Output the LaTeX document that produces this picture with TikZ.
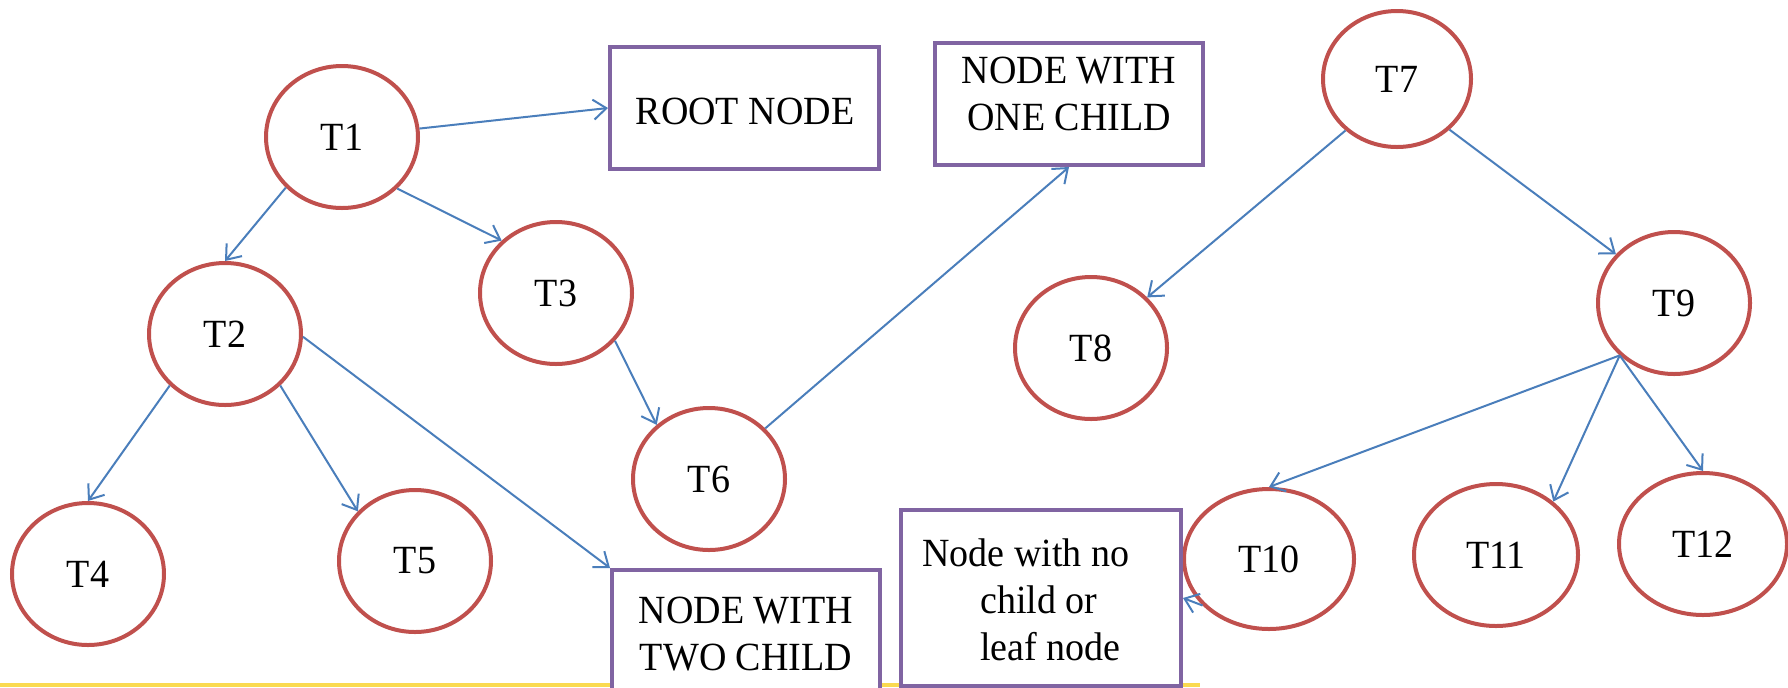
\documentclass[tikz,border=0pt]{standalone}
\usepackage{fontspec}
\setmainfont{Liberation Serif}[FakeStretch=0.95]
\usetikzlibrary{arrows.meta,shapes.geometric}

\definecolor{nodered}{RGB}{192,80,77}
\definecolor{boxpurple}{RGB}{128,100,162}
\definecolor{linkblue}{RGB}{74,126,187}
\definecolor{rulegold}{RGB}{250,218,80}

\newcommand{\lbl}{\fontsize{20}{23.5}\selectfont}

\tikzset{
  tnode/.style={ellipse, draw=nodered, line width=2pt, fill=white, inner sep=0pt,
                minimum width=76pt, minimum height=71pt, font=\lbl},
  box/.style={rectangle, draw=boxpurple, line width=2pt, fill=white, inner sep=0pt},
  txt/.style={font=\lbl, align=center, inner sep=0pt},
  link/.style={draw=linkblue, line width=1pt, -{Straight Barb[length=6.5pt,width=10pt]}},
}

\begin{document}
\begin{tikzpicture}[x=0.5pt,y=-0.5pt]
  \useasboundingbox (0,0) rectangle (1788,687);
  \clip (0,0) rectangle (1788,687);

  % rule along the bottom edge
  \fill[rulegold] (0,683) rectangle (1200,687);

  % tree nodes
  \node[tnode] (T1) at (342,137) {T1};
  \node[tnode] (T2) at (225,334) {T2};
  \node[tnode] (T3) at (556,293) {T3};
  \node[tnode] (T4) at (88,574) {T4};
  \node[tnode] (T5) at (415,561) {T5};
  \node[tnode] (T6) at (709,479) {T6};
  \node[tnode, minimum width=74pt, minimum height=68pt] (T7) at (1397,79) {T7};
  \node[tnode] (T8) at (1091,348) {T8};
  \node[tnode] (T9) at (1674,303) {T9};
  \node[tnode, minimum width=85pt, minimum height=70pt] (T10) at (1269,559) {T10};
  \node[tnode, minimum width=82pt, minimum height=71pt] (T11) at (1496,555) {T11};
  \node[tnode, minimum width=84pt, minimum height=71pt] (T12) at (1703,544) {T12};

  % annotation boxes
  \node[box, minimum width=134.5pt, minimum height=61pt] (root) at (744.5,108) {};
  \node[txt] (rootlbl) at (745,111) {ROOT NODE};

  \node[box, minimum width=134pt, minimum height=61pt] (one) at (1069,104) {};
  \node[txt] (onelbl) at (1069,94) {NODE WITH\\ONE CHILD};

  \node[box, minimum width=134pt, minimum height=70pt] (two) at (746,640) {};
  \node[txt] (twolbl) at (746,634.5) {NODE WITH\\TWO CHILD};

  \node[box, minimum width=140pt, minimum height=88pt] (leaf) at (1041,598) {};
  \node[txt, anchor=base west] (leafA) at (922,566) {Node with no};
  \node[txt, anchor=base west] (leafB) at (980,613) {child or};
  \node[txt, anchor=base west] (leafC) at (980,660) {leaf node};

  % connectors
  \draw[link] (T1) -- (root.west);
  \draw[link] (T1.-138) -- (T2.north);
  \draw[link] (T1.-43) -- (T3.136);
  \draw[link] (T2.-137) -- (T4.north);
  \draw[link] (T2.-43) -- (T5.139);
  \draw[link] (T2.-2) -- (two.north west);
  \draw[link] (T3.-39) -- (T6.134);
  \draw[link] (T6.42) -- (one.south);
  \draw[link] (T7.-135) -- (T8.42);
  \draw[link] (T7.-44) -- (T9.140);
  \draw[link] (T9.-136) -- (T10.north);
  \draw[link] (T9.-136) -- (T11.43);
  \draw[link] (T9.-136) -- (T12.north);
  \draw[link] (T10.-145) -- (leaf.east);
\end{tikzpicture}
\end{document}
